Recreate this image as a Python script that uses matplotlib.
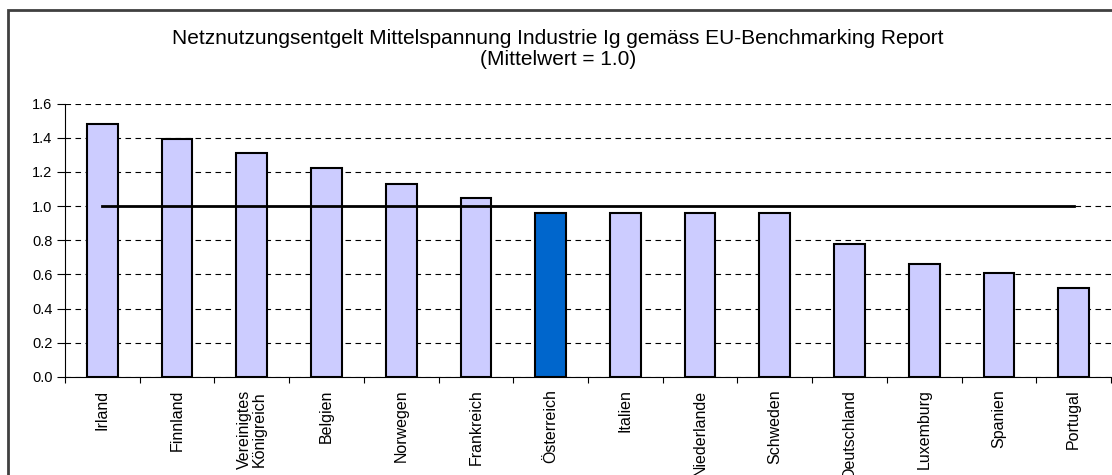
import matplotlib
import matplotlib.pyplot as plt
import numpy as np
from matplotlib.patches import Rectangle

matplotlib.use("Agg")

countries = ["Irland", "Finnland", "Vereinigtes\nKönigreich", "Belgien", "Norwegen",
             "Frankreich", "Österreich", "Italien", "Niederlande", "Schweden",
             "Deutschland", "Luxemburg", "Spanien", "Portugal"]
values = [1.48, 1.395, 1.31, 1.22, 1.13, 1.045, 0.957, 0.957, 0.957, 0.957,
          0.78, 0.66, 0.61, 0.52]
mean_values = [1.0, 1.0, 1.0, 1.0, 1.0, 1.0, 1.0, 1.0, 1.0, 1.0, 1.0, 1.0, 1.0, 1.0]
highlight = "Österreich"
yticks = [0.0, 0.2, 0.4, 0.6, 0.8, 1.0, 1.2, 1.4, 1.6]

plt.rcParams["font.family"] = ["Liberation Sans", "DejaVu Sans"]

fig = plt.figure(figsize=(11.12, 4.75), dpi=100)
ax = fig.add_axes([65 / 1112, 1 - 377 / 475, 1046 / 1112, (377 - 103.5) / 475])

x = np.arange(len(countries))
colors = ["#0066CC" if c == highlight else "#CCCCFF" for c in countries]
ax.bar(x, values, width=0.41, color=colors, edgecolor="black", linewidth=1.5, zorder=3)
ax.plot(x, mean_values, color="black", linewidth=2, zorder=4)

ax.set_xlim(-0.5, len(countries) - 0.5)
ax.set_ylim(0, 1.6)
ax.set_yticks(yticks)
ax.set_yticklabels([f"{v:.1f}" for v in yticks], fontsize=10.5)
ax.yaxis.grid(True, color="black", linestyle=(0, (5, 4)), linewidth=0.8, zorder=0)
ax.set_axisbelow(True)

ax.set_xticks(x)
ax.set_xticklabels(countries, rotation=90, fontsize=11.5, va="top", ha="center",
                   linespacing=1.05)
ax.set_xticks(np.arange(len(countries) + 1) - 0.5, minor=True)
ax.tick_params(axis="x", which="major", length=0, pad=9)
ax.tick_params(axis="x", which="minor", length=4.5, width=0.8, direction="out")
ax.tick_params(axis="y", length=6, width=0.8, direction="out", pad=3)

for side in ["top", "right"]:
    ax.spines[side].set_visible(False)
ax.spines["left"].set_linewidth(0.8)
ax.spines["bottom"].set_linewidth(0.8)

fig.text(558 / 1112, 1 - 49 / 475,
         "Netznutzungsentgelt Mittelspannung Industrie Ig gemäss EU-Benchmarking Report\n(Mittelwert = 1.0)",
         ha="center", va="center", fontsize=15, linespacing=1.1)

fig.patches.append(Rectangle((8 / 1112, -0.1), 1.2, 1 - 10 / 475 + 0.1,
                             transform=fig.transFigure, fill=False,
                             edgecolor="#404040", linewidth=2))

fig.savefig("out.png", dpi=100)
